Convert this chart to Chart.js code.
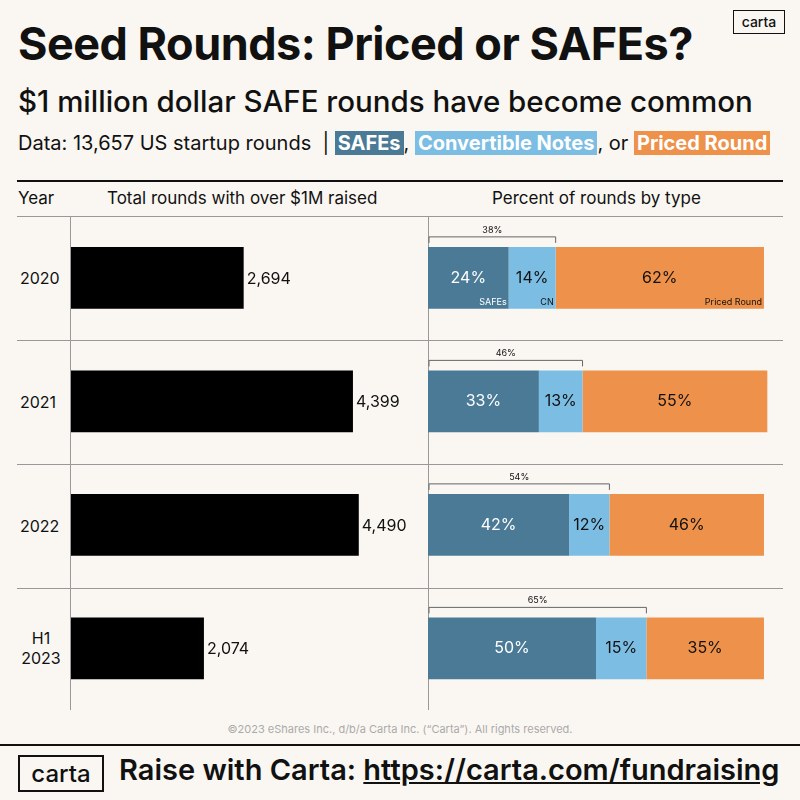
<!DOCTYPE html>
<html><head><meta charset="utf-8">
<script src="https://cdn.jsdelivr.net/npm/chart.js@4"></script>
<style>
body{margin:0;background:#faf7f2;font-family:Inter,"Noto Sans",sans-serif;color:#111;}
#wrap{position:relative;width:800px;height:800px;overflow:hidden;}
.abs{position:absolute;white-space:nowrap;}
.tag{color:#fff;font-weight:700;padding:0 3px;}
.hl{position:absolute;background:#999;height:1px;left:17px;width:766px;}
</style></head><body><div id="wrap">
<div class="abs" style="left:18px;top:16px;font-size:45px;font-weight:700;letter-spacing:-0.5px">Seed Rounds: Priced or SAFEs?</div>
<div class="abs" style="left:733px;top:10px;width:50px;height:22px;border:1.5px solid #111;font-size:14px;text-align:center;line-height:22px;font-weight:500">carta</div>
<div class="abs" style="left:18px;top:83px;font-size:29.5px;font-weight:500">$1 million dollar SAFE rounds have become common</div>
<div class="abs" style="left:18px;top:131px;font-size:20px;">Data: 13,657 US startup rounds &nbsp;| <span class="tag" style="background:#4a7a96">SAFEs</span>, <span class="tag" style="background:#7bbde3">Convertible Notes</span>, or <span class="tag" style="background:#ee914a">Priced Round</span></div>
<div class="abs" style="left:17px;top:180px;width:766px;height:2px;background:#111"></div>
<div class="abs" style="left:18px;top:188px;font-size:17px">Year</div>
<div class="abs" style="left:107px;top:188px;font-size:17px">Total rounds with over $1M raised</div>
<div class="abs" style="left:492px;top:188px;font-size:17px">Percent of rounds by type</div>
<div class="hl" style="top:216px"></div>
<div class="hl" style="top:340px"></div>
<div class="hl" style="top:464px"></div>
<div class="hl" style="top:588px"></div>
<div class="abs" style="left:70px;top:216px;width:1px;height:494px;background:#999"></div>
<div class="abs" style="left:428px;top:216px;width:1px;height:494px;background:#999"></div>
<div class="abs" style="left:20px;top:268px;font-size:16px">2020</div>
<div class="abs" style="left:20px;top:392px;font-size:16px">2021</div>
<div class="abs" style="left:20px;top:516px;font-size:16px">2022</div>
<div class="abs" style="left:20px;top:628px;font-size:16px;text-align:center;width:42px;line-height:20px">H1<br>2023</div>
<div class="abs" style="left:71px;top:216px;width:357px;height:494px"><canvas id="c1"></canvas></div>
<div class="abs" style="left:428px;top:216px;width:340px;height:494px"><canvas id="c2"></canvas></div>
<div class="abs" style="left:0;width:800px;top:722px;font-size:11px;color:#aaa;text-align:center">©2023 eShares Inc., d/b/a Carta Inc. (“Carta”). All rights reserved.</div>
<div class="abs" style="left:0;top:744px;width:800px;height:2px;background:#111"></div>
<div class="abs" style="left:18px;top:755px;width:82px;height:33px;border:2px solid #111;font-size:24px;text-align:center;line-height:33px;font-weight:500">carta</div>
<div class="abs" style="left:119px;top:752px;font-size:29px;font-weight:600">Raise with Carta: <span style="text-decoration:underline">https://carta.com/fundraising</span></div>
</div>
<script>
const years=["2020","2021","2022","H1 2023"];
const totals=[2694,4399,4490,2074];
const safes=[24,33,42,50];
const notes=[14,13,12,15];
const priced=[62,55,46,35];
const brackets=[38,46,54,65];
const subLabels=["SAFEs","CN","Priced Round"];
Chart.defaults.font.family="Inter, 'Noto Sans', sans-serif";
const common={indexAxis:'y',responsive:true,maintainAspectRatio:false,animation:false,
 plugins:{legend:{display:false},tooltip:{enabled:false}},layout:{padding:0}};
new Chart(document.getElementById('c1'),{type:'bar',
 data:{labels:years,datasets:[{data:totals,backgroundColor:'#000',categoryPercentage:1,barPercentage:0.5}]},
 options:{...common,scales:{x:{display:false,min:0,max:5570},y:{display:false}}},
 plugins:[{id:'lbl',afterDatasetsDraw(ch){const c=ch.ctx;c.save();c.font='16px Inter';c.fillStyle='#111';c.textBaseline='middle';
  ch.getDatasetMeta(0).data.forEach((b,i)=>{c.fillText(totals[i].toLocaleString('en-US'),b.x+3,b.y+1);});c.restore();}}]});
new Chart(document.getElementById('c2'),{type:'bar',
 data:{labels:years,datasets:[
  {data:safes,backgroundColor:'#4a7a96'},{data:notes,backgroundColor:'#7bbde3'},{data:priced,backgroundColor:'#ee914a'}
 ].map(d=>({...d,categoryPercentage:1,barPercentage:0.5}))},
 options:{...common,scales:{x:{display:false,stacked:true,min:0,max:101.2},y:{display:false,stacked:true}}},
 plugins:[{id:'lbl',afterDatasetsDraw(ch){const c=ch.ctx;c.save();c.textBaseline='middle';c.textAlign='center';
  const sets=[safes,notes,priced];
  for(let d=0;d<3;d++){ch.getDatasetMeta(d).data.forEach((b,i)=>{
   c.font='16px Inter';c.fillStyle=d==0?'#fff':'#111';
   c.fillText(sets[d][i]+'%',(b.base+b.x)/2,b.y);
   if(i==0){c.font='9px Inter';c.textAlign='right';
    c.fillText(subLabels[d],b.x-2,b.y+b.height/2-6);c.textAlign='center';}
  });}
  const xs=ch.scales.x;
  ch.getDatasetMeta(1).data.forEach((b,i)=>{
   const top=b.y-b.height/2-10, x0=xs.getPixelForValue(0)+1, x1=b.x;
   c.strokeStyle='#666';c.lineWidth=1;c.beginPath();c.moveTo(x0,top+6);c.lineTo(x0,top);c.lineTo(x1,top);c.lineTo(x1,top+6);c.stroke();
   c.font='9px Inter';c.fillStyle='#111';c.fillText(brackets[i]+'%',(x0+x1)/2,top-7);
  });c.restore();}}]});
</script></body></html>
